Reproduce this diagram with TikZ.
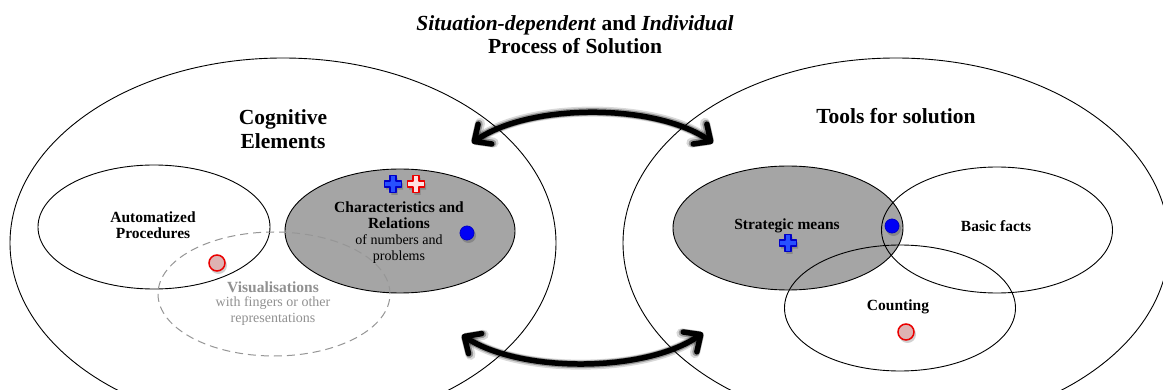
\documentclass[tikz,border=0pt]{standalone}
\usepackage{fontspec}
\setmainfont{Liberation Serif}
\usetikzlibrary{arrows.meta,shapes.geometric}
\definecolor{fillgray}{RGB}{165,165,165}
\definecolor{dashgray}{RGB}{150,150,150}
\definecolor{textgray}{RGB}{145,145,145}
\definecolor{dotblue}{RGB}{0,0,245}
\definecolor{crossblue}{RGB}{40,80,255}
\definecolor{crossblueline}{RGB}{0,0,200}
\definecolor{crosspink}{RGB}{255,225,225}
\definecolor{circpink}{RGB}{222,178,178}
\definecolor{mred}{RGB}{235,0,0}
\tikzset{
  oval/.style={ellipse, draw=black, line width=0.9pt, inner sep=0pt,
    minimum width=#1},
  bigoval/.style={ellipse, draw=black, line width=0.9pt, inner sep=0pt,
    minimum width=546pt, minimum height=370pt},
  grayoval/.style={oval=#1, fill=fillgray},
  dashoval/.style={ellipse, draw=dashgray, line width=1pt, inner sep=0pt,
    dash pattern=on 8pt off 5pt},
  heading/.style={align=center, inner sep=0pt,
    font=\fontsize{21.5}{24}\selectfont\bfseries},
  lbl/.style={align=center, inner sep=0pt,
    font=\fontsize{15.5}{16.5}\selectfont\bfseries},
  sublbl/.style={align=center, inner sep=0pt,
    font=\fontsize{14}{16}\selectfont},
  bluedot/.style={circle, fill=dotblue, draw=crossblueline, line width=0.8pt,
    minimum size=14pt, inner sep=0pt},
  redcirc/.style={circle, fill=circpink, draw=mred, line width=1.5pt,
    minimum size=16pt, inner sep=0pt},
  shadowdot/.style={circle, fill=black, opacity=0.18, inner sep=0pt},
  crossmark/.pic={
    \fill[black, opacity=0.18, shift={(1.5,2.5)}]
      (-3.2,-8.5) -- (3.2,-8.5) -- (3.2,-3.2) -- (8.5,-3.2) -- (8.5,3.2) -- (3.2,3.2)
      -- (3.2,8.5) -- (-3.2,8.5) -- (-3.2,3.2) -- (-8.5,3.2) -- (-8.5,-3.2) -- (-3.2,-3.2) -- cycle;
    \draw[pic actions, line width=1.6pt, line join=round]
      (-3.2,-8.5) -- (3.2,-8.5) -- (3.2,-3.2) -- (8.5,-3.2) -- (8.5,3.2) -- (3.2,3.2)
      -- (3.2,8.5) -- (-3.2,8.5) -- (-3.2,3.2) -- (-8.5,3.2) -- (-8.5,-3.2) -- (-3.2,-3.2) -- cycle;
  },
  bigarrow/.style={line width=#1, line cap=round,
    {Straight Barb[length=13pt, width=24pt, line cap=round, line join=round]}-{Straight Barb[length=13pt, width=24pt, line cap=round, line join=round]}},
}
\begin{document}
\begin{tikzpicture}[x=1pt, y=-1pt]
\useasboundingbox (0,0) rectangle (1163,390);
\fill[white] (0,0) rectangle (1163,390);
\clip (0,0) rectangle (1163,390);

% title
\node[heading, font=\fontsize{21.5}{23}\selectfont\bfseries] (title) at (575,35)
  {\textit{Situation-dependent} and \textit{Individual}\\Process of Solution};

% big ellipses
\node[bigoval] (cog) at (283,243) {};
\node[bigoval] (tools) at (896,243) {};

% left group
\node[oval=232pt, minimum height=124pt] (auto) at (154,227) {};
\node[grayoval=230pt, minimum height=124pt] (char) at (400,231) {};
\node[dashoval, minimum width=232pt, minimum height=124pt] (vis) at (274,294) {};

% right group
\node[grayoval=230pt, minimum height=124pt] (strat) at (788,228) {};
\node[oval=231pt, minimum height=126pt] (basic) at (997,230) {};
\node[oval=231pt, minimum height=126pt] (count) at (900,308) {};

% headings
\node[heading] (coglbl) at (283,129) {Cognitive\\Elements};
\node[heading] (toolslbl) at (896,116) {Tools for solution};

% labels
\node[lbl] (autolbl) at (153,225) {Automatized\\Procedures};
\node[lbl] (charlbl) at (399,215) {Characteristics and\\Relations};
\node[sublbl] (charsub) at (399,249) {of numbers and\\problems};
\node[lbl, text=textgray] (vislbl) at (273,287) {Visualisations};
\node[sublbl, text=textgray] (vissub) at (273,311) {with fingers or other\\representations};
\node[lbl] (stratlbl) at (787,226) {Strategic means};
\node[lbl] (basiclbl) at (996,226) {Basic facts};
\node[lbl] (countlbl) at (898,307) {Counting};

% markers
\pic[fill=crossblue, draw=crossblueline] (p1) at (393,184) {crossmark};
\pic[fill=crosspink, draw=mred] (p2) at (416,184) {crossmark};
\pic[fill=crossblue, draw=crossblueline] (p3) at (788,243) {crossmark};
\node[shadowdot, minimum size=15pt] (s1) at (468.5,235.5) {};
\node[bluedot] (d1) at (467,233) {};
\node[shadowdot, minimum size=17pt] (s2) at (218.5,265.5) {};
\node[redcirc] (r1) at (217,263) {};
\node[shadowdot, minimum size=15pt] (s3) at (893.5,228.5) {};
\node[bluedot] (d2) at (892,226) {};
\node[shadowdot, minimum size=17pt] (s4) at (907.5,334.5) {};
\node[redcirc] (r2) at (906,332) {};

% arrows
\coordinate (ta) at (472,143);
\coordinate (tb) at (713,143);
\coordinate (ba) at (462,335);
\coordinate (bb) at (703,333);
\begin{scope}[opacity=0.15]
\draw[bigarrow=10pt] (ta) .. controls (530,103) and (655,103) .. (tb);
\draw[bigarrow=10pt] (ba) .. controls (520,373) and (645,373) .. (bb);
\end{scope}
\begin{scope}[opacity=0.3]
\draw[bigarrow=7.5pt] (ta) .. controls (530,103) and (655,103) .. (tb);
\draw[bigarrow=7.5pt] (ba) .. controls (520,373) and (645,373) .. (bb);
\end{scope}
\draw[bigarrow=5.5pt] (ta) .. controls (530,103) and (655,103) .. (tb);
\draw[bigarrow=5.5pt] (ba) .. controls (520,373) and (645,373) .. (bb);
\end{tikzpicture}
\end{document}
